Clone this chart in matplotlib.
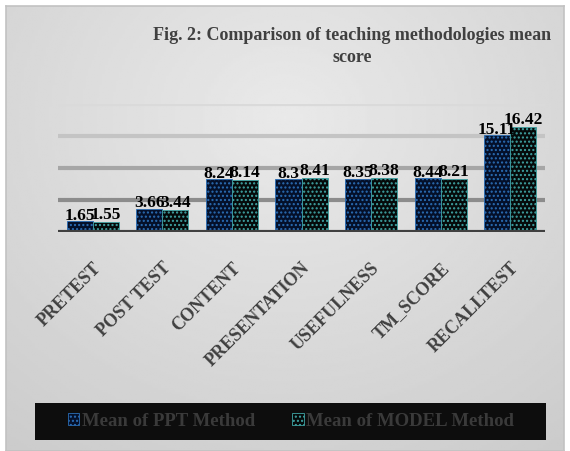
import numpy as np
import matplotlib
matplotlib.use("Agg")
import matplotlib.pyplot as plt
from matplotlib.patches import Rectangle

plt.rcParams['font.family'] = ['Liberation Serif', 'DejaVu Serif']

categorias = ['PRETEST', 'POST TEST', 'CONTENT', 'PRESENTATION',
              'USEFULNESS', 'TM_SCORE', 'RECALLTEST']
media_ppt = [1.65, 3.66, 8.24, 8.3, 8.35, 8.44, 15.11]
media_model = [1.55, 3.44, 8.14, 8.41, 8.38, 8.21, 16.42]
etiquetas_ppt = ['1.65', '3.66', '8.24', '8.3', '8.35', '8.44', '15.11']
etiquetas_model = ['1.55', '3.44', '8.14', '8.41', '8.38', '8.21', '16.42']

fig = plt.figure(figsize=(5.70, 4.52), dpi=100)
fig.patch.set_facecolor('white')

# fondo degradado gris
fondo = fig.add_axes([6 / 570, 0, 558 / 570, 1 - 7 / 452], zorder=-10)
yy, xx = np.mgrid[0:1:200j, 0:1:200j]
dist = np.sqrt(((xx - 0.5) * 1.0) ** 2 + ((yy - 0.25) * 0.9) ** 2)
grad = 0.915 - 0.14 * dist
fondo.imshow(grad, cmap='gray', vmin=0, vmax=1, aspect='auto',
             extent=[0, 1, 0, 1], origin='upper')
fondo.set_xticks([])
fondo.set_yticks([])
for s in fondo.spines.values():
    s.set_color('#c2c2c2')
    s.set_linewidth(1.2)

ax = fig.add_axes([58 / 570, 1 - 233 / 452, 487 / 570, 128 / 452])
ax.patch.set_alpha(0)

x = np.arange(len(categorias))
ancho = 0.375

b1 = ax.bar(x - ancho / 2, media_ppt, ancho, facecolor='#04102a',
            edgecolor='#2a6db5', hatch='....', linewidth=0.6, zorder=3,
            label='Mean of PPT Method')
b2 = ax.bar(x + ancho / 2, media_model, ancho, facecolor='#050a0a',
            edgecolor='#3fa3a3', hatch='....', linewidth=0.6, zorder=3,
            label='Mean of MODEL Method')

for i in range(len(categorias)):
    ax.text(x[i] - ancho / 2, media_ppt[i] - 0.3, etiquetas_ppt[i], ha='center',
            va='bottom', fontsize=12.5, fontweight='bold', zorder=5)
    ax.text(x[i] + ancho / 2, media_model[i], etiquetas_model[i], ha='center',
            va='bottom', fontsize=12.5, fontweight='bold', zorder=5)

# lineas de cuadricula con tonos distintos
colores_grid = {5: '#8c8c8c', 10: '#a6a6a6', 15: '#c4c4c4', 20: '#dadada'}
for v, c in colores_grid.items():
    ax.axhline(v, color=c, linewidth=3, zorder=1)
ax.axhline(0, color='#404040', linewidth=3, zorder=4)

ax.set_xlim(-0.5, 6.5)
ax.set_ylim(0, 20)
ax.set_yticks([])
ax.set_xticks(x)
ax.set_xticklabels(categorias, rotation=45, ha='right', rotation_mode='anchor',
                   fontsize=13, fontweight='bold', color='#404040')
ax.tick_params(axis='x', length=0, pad=19)
for s in ax.spines.values():
    s.set_visible(False)

fig.text(352 / 570, 1 - 35 / 452, 'Fig. 2: Comparison of teaching methodologies mean',
         ha='center', va='center', fontsize=13, fontweight='bold', color='#404040')
fig.text(352 / 570, 1 - 58 / 452, 'score', ha='center', va='center',
         fontsize=13, fontweight='bold', color='#404040')

# caja negra de la leyenda
fig.patches.append(Rectangle((35 / 570, 1 - 441 / 452), 511 / 570, 37 / 452,
                             transform=fig.transFigure, facecolor='#0d0d0d',
                             edgecolor='none', zorder=1))
leg = fig.legend(handles=[b1, b2], loc='center', ncol=2, frameon=False,
                 bbox_to_anchor=(291 / 570, 1 - 422 / 452),
                 handlelength=0.6, handleheight=0.6, handletextpad=0.15,
                 columnspacing=2.0, prop={'size': 13.5, 'weight': 'bold'})
for t in leg.get_texts():
    t.set_color('#3a3a3a')

fig.savefig('out.png', dpi=100)
